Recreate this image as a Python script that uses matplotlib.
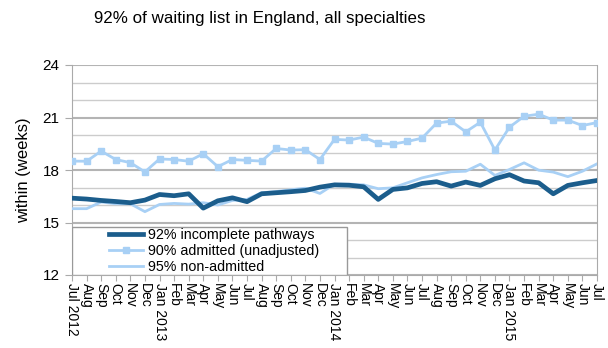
import matplotlib
matplotlib.use("Agg")
import matplotlib.pyplot as plt
from matplotlib.patches import Rectangle
import numpy as np

plt.rcParams['font.family'] = ['Liberation Sans', 'DejaVu Sans']

months = ["Jul 2012", "Aug", "Sep", "Oct", "Nov", "Dec",
          "Jan 2013", "Feb", "Mar", "Apr", "May", "Jun",
          "Jul", "Aug", "Sep", "Oct", "Nov", "Dec",
          "Jan 2014", "Feb", "Mar", "Apr", "May", "Jun",
          "Jul", "Aug", "Sep", "Oct", "Nov", "Dec",
          "Jan 2015", "Feb", "Mar", "Apr", "May", "Jun", "Jul"]

incomplete = [16.39, 16.34, 16.26, 16.20, 16.13, 16.28, 16.60, 16.53, 16.64, 15.82, 16.24, 16.41,
              16.19, 16.64, 16.70, 16.76, 16.83, 17.02, 17.15, 17.13, 17.04, 16.32, 16.89, 16.98,
              17.23, 17.33, 17.08, 17.31, 17.12, 17.50, 17.73, 17.37, 17.27, 16.64, 17.12, 17.27, 17.40]

admitted = [18.51, 18.50, 19.08, 18.60, 18.42, 17.89, 18.63, 18.60, 18.50, 18.93, 18.19, 18.60,
            18.55, 18.51, 19.23, 19.14, 19.16, 18.60, 19.75, 19.71, 19.88, 19.52, 19.48, 19.63,
            19.82, 20.68, 20.79, 20.18, 20.73, 19.14, 20.45, 21.07, 21.19, 20.85, 20.85, 20.54, 20.71]

non_admitted = [15.79, 15.79, 16.17, 16.07, 16.07, 15.62, 16.03, 16.09, 16.05, 16.13, 16.00, 16.26,
                16.32, 16.70, 16.77, 16.87, 16.96, 16.66, 17.19, 17.19, 17.15, 16.93, 16.98, 17.27,
                17.55, 17.74, 17.90, 17.93, 18.33, 17.69, 18.03, 18.41, 17.99, 17.88, 17.62, 17.93, 18.35]

dark = '#1b5d8c'
light = '#a8d0f5'

fig = plt.figure(figsize=(6.08, 3.48), dpi=100)
ax = fig.add_axes([72/608, 1-275/348, 525/608, 210/348])

x = np.arange(len(months))

ax.plot(x, incomplete, color=dark, lw=3.4, label="92% incomplete pathways", zorder=4)
ax.plot(x, admitted, color=light, lw=2, marker='s', ms=5, label="90% admitted (unadjusted)", zorder=3)
ax.plot(x, non_admitted, color=light, lw=2, label="95% non-admitted", zorder=3)

ax.set_xlim(0, len(months) - 1)
ax.set_ylim(12, 24)
ax.set_yticks([12, 15, 18, 21, 24])
ax.set_yticks(np.arange(12, 25, 1), minor=True)
ax.grid(which='major', axis='y', color='#b4b4b4', lw=1.5, zorder=0)
ax.grid(which='minor', axis='y', color='#cccccc', lw=1, zorder=0)
ax.tick_params(axis='y', which='minor', length=0)
ax.tick_params(axis='y', which='major', length=5, color='#aaaaaa', labelsize=11, pad=4)

ax.set_xticks(x)
ax.set_xticklabels(months, rotation=-90, fontsize=10)
ax.tick_params(axis='x', length=4, color='#aaaaaa', pad=2)

for s in ax.spines.values():
    s.set_color('#aaaaaa')
ax.spines['top'].set_visible(False)

ax.set_ylabel("within (weeks)", fontsize=12, labelpad=8)

fig.text(260/608, 1-18/348, "92% of waiting list in England, all specialties",
         ha='center', va='center', fontsize=12.2)

# legend box (white, grey border) and frameless legend inside it
box = Rectangle((0, 0), 275/525, 48/210, transform=ax.transAxes, facecolor='white',
                edgecolor='#999999', lw=1, zorder=5)
ax.add_patch(box)
leg = ax.legend(loc='center left', bbox_to_anchor=(37/525, 24/210), fontsize=10.3, frameon=False,
                handlelength=2.4, borderaxespad=0, labelspacing=0.12,
                borderpad=0, handletextpad=0.3)
leg.set_zorder(6)

fig.savefig("out.png", dpi=100)
